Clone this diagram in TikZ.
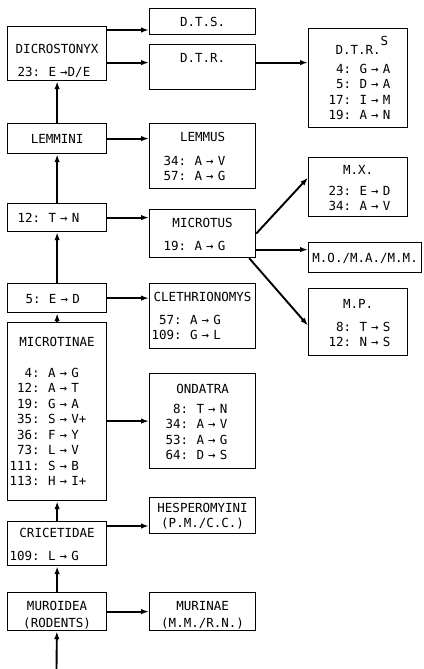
\documentclass[tikz,border=0pt]{standalone}
\usepackage{fontspec}
\newfontfamily\typer{DejaVu Sans Mono}
\usetikzlibrary{arrows.meta,calc}

\newcommand{\ttl}[1]{\makebox[\linewidth]{#1}}
\newcommand{\muts}[2][0bp]{\hspace*{#1}\begin{tabular}[t]{@{}r@{:~~}l@{}}#2\end{tabular}}

\begin{document}
\begin{tikzpicture}[
    x=1bp,y=-1bp,
    box/.style={draw,line width=1.2bp,anchor=north west,inner xsep=2bp,
      inner ysep=0pt,align=left,
      font=\typer\fontsize{12.5bp}{15.5bp}\selectfont},
    stem/.style={box,text width=95bp},
    branch/.style={box,text width=102bp},
    twig/.style={box,text width=95bp},
    vspan/.style 2 args={text height=#1bp,text depth=#2bp},
    arr/.style={-{Latex[length=8bp,width=5.5bp]},line width=1.9bp}
  ]
  \useasboundingbox (0,0) rectangle (423,669);

  % main lineage
  \node[stem,vspan={26.5}{27.5}] (dicro) at (7,26)
    {\ttl{DICROSTONYX}\\[7.5bp]\muts[8bp]{23 & E →D/E}};
  \node[stem,vspan={19.5}{10.5}] (lemmini) at (7,123) {\ttl{LEMMINI}};
  \node[stem,vspan={18.5}{9.5}] (tn) at (7,203) {\muts[8bp]{12 & T → N}};
  \node[stem,vspan={19.5}{9.5}] (ed) at (7,283) {\muts[16bp]{5 & E → D}};
  \node[stem,vspan={23.5}{154.5}] (microtinae) at (7,322)
    {\ttl{MICROTINAE}\\[15.5bp]\muts{4 & A → G\\ 12 & A → T\\ 19 & G → A\\
      35 & S → V+\\ 36 & F → Y\\ 73 & L → V\\ 111 & S → B\\ 113 & H → I+}};
  \node[stem,vspan={15.5}{28.5}] (cric) at (7,521)
    {\ttl{CRICETIDAE}\\[7.5bp]\muts{109 & L → G}};
  \node[stem,vspan={17.5}{20.5}] (muroidea) at (7,592)
    {\ttl{MUROIDEA}\\[1.5bp]\ttl{(RODENTS)}};

  % side groups
  \node[branch,vspan={17.5}{8.5}] (dts) at (149,8) {\ttl{D.T.S.}};
  \node[branch,vspan={17.5}{27.5}] (dtr) at (149,44) {\ttl{D.T.R.}};
  \node[branch,vspan={17.5}{47.5}] (lemmus) at (149,123)
    {\ttl{LEMMUS}\\[8.5bp]\muts[12bp]{34 & A → V\\ 57 & A → G}};
  \node[branch,vspan={17.5}{30.5}] (microtus) at (149,209)
    {\ttl{MICROTUS}\\[7.5bp]\muts[12bp]{19 & A → G}};
  \node[branch,vspan={17.5}{47.5}] (cleth) at (149,283)
    {\ttl{CLETHRIONOMYS}\\[7.5bp]\muts{57 & A → G\\ 109 & G → L}};
  \node[branch,vspan={19.5}{75.5}] (ondatra) at (149,373)
    {\ttl{ONDATRA}\\[4.5bp]\muts[14bp]{8 & T → N\\ 34 & A → V\\
      53 & A → G\\ 64 & D → S}};
  \node[branch,vspan={14.5}{21.5}] (hesp) at (149,497)
    {\ttl{HESPEROMYINI}\\\ttl{(P.M./C.C.)}};
  \node[branch,vspan={17.5}{20.5}] (murinae) at (149,592)
    {\ttl{MURINAE}\\[1.5bp]\ttl{(M.M./R.N.)}};

  % species
  \node[twig,vspan={25.5}{73.5}] (dtrs) at (308,28)
    {\ttl{D.T.R.\rlap{\raisebox{9bp}{S}}}\\[3.5bp]\muts[18bp]{4 & G → A\\
      5 & D → A\\ 17 & I → M\\ 19 & A → N}};
  \node[twig,vspan={16.5}{42.5}] (mx) at (308,157)
    {\ttl{M.X.}\\[5.5bp]\muts[18bp]{23 & E → D\\ 34 & A → V}};
  \node[twig,text width=109bp,vspan={19.5}{10.5}] (mo) at (308,242)
    {\ttl{M.O./M.A./M.M.}};
  \node[twig,vspan={19.5}{47.5}] (mp) at (308,288)
    {\ttl{M.P.}\\[7.5bp]\muts[18bp]{8 & T → S\\ 12 & N → S}};

  % vertical lineage arrows
  \coordinate (root) at (56.5,669);
  \draw[arr] (root) -- (muroidea);
  \draw[arr] (muroidea) -- (cric);
  \draw[arr] (cric) -- (microtinae);
  \draw[arr] (microtinae) -- (ed);
  \draw[arr] (ed) -- (tn);
  \draw[arr] (tn) -- (lemmini);
  \draw[arr] (lemmini) -- (dicro);

  % side arrows
  \draw[arr] ($(dicro.north east)+(0,4)$) -- ($(dicro.north east -| dts.west)+(0,4)$);
  \draw[arr] ($(dicro.east)+(0,9)$) -- ($(dicro.east -| dtr.west)+(0,9)$);
  \draw[arr] ($(dtr.east)+(0,-4.5)$) -- ($(dtr.east -| dtrs.west)+(0,-4.5)$);
  \draw[arr] (lemmini) -- (lemmini -| lemmus.west);
  \draw[arr] (tn) -- (tn -| microtus.west);
  \draw[arr] (ed) -- (ed -| cleth.west);
  \draw[arr] (microtinae.east |- ondatra.west) -- (ondatra.west);
  \draw[arr] ($(cric.north east)+(0,5)$) -- ($(cric.north east -| hesp.west)+(0,5)$);
  \draw[arr] (muroidea) -- (murinae);
  \draw[arr] (microtus.east) -- ($(mx.west)+(0,-9.5)$);
  \draw[arr] ($(microtus.east)+(0,16)$) -- ($(microtus.east -| mo.west)+(0,16)$);
  \draw[arr] ($(microtus.south east)+(-7,0)$) -- ($(mp.west)+(0,3.5)$);
\end{tikzpicture}
\end{document}
